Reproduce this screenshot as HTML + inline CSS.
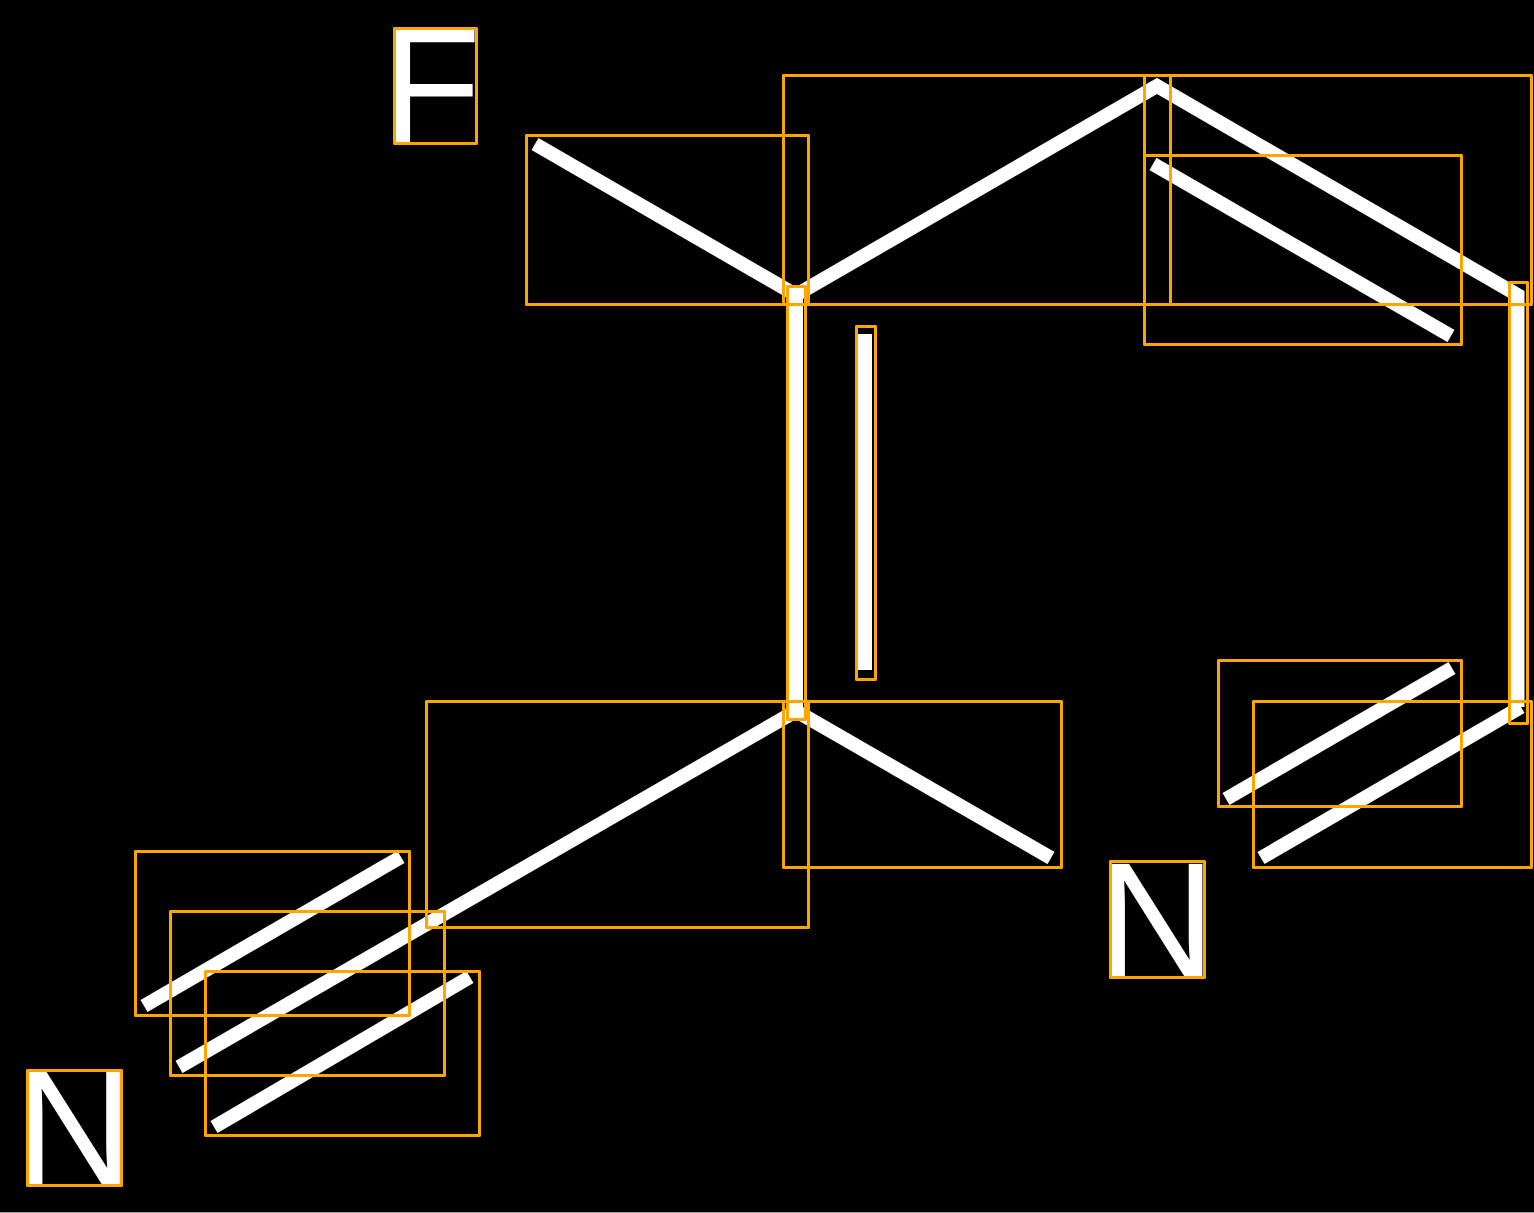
<!DOCTYPE html>
<html>
<head>
<meta charset="utf-8">
<style>
html,body{margin:0;padding:0;background:#000;width:1534px;height:1213px;overflow:hidden}
svg{display:block}
text{font-family:"Liberation Sans",sans-serif;font-size:163px;fill:#fff}
</style>
</head>
<body>
<svg width="1534" height="1213" viewBox="0 0 1534 1213" xmlns="http://www.w3.org/2000/svg">
<rect width="1534" height="1213" fill="#000"/>
<g stroke="#fff" stroke-width="14" fill="none" stroke-linecap="butt">
<line x1="535" y1="144" x2="796" y2="295"/>
<polyline points="796,295 1157,86 1521,297" stroke-linejoin="miter"/>
<line x1="1153" y1="164" x2="1451" y2="336"/>
<line x1="796" y1="288" x2="796" y2="718"/>
<line x1="865" y1="334" x2="865" y2="670"/>
<line x1="1517.5" y1="291" x2="1517.5" y2="707"/>
<line x1="796" y1="711" x2="1051" y2="858"/>
<line x1="796" y1="711" x2="179" y2="1067"/>
<line x1="401" y1="857" x2="144" y2="1006"/>
<line x1="470" y1="977" x2="214" y2="1127"/>
<line x1="1521" y1="707" x2="1261" y2="858"/>
<line x1="1452" y1="668" x2="1226" y2="799"/>
</g>
<text x="381.5" y="142">F</text>
<text x="1098" y="976">N</text>
<text x="15.5" y="1184">N</text>
<g fill="none" stroke="#ffa500" stroke-width="3" stroke-linejoin="round">
<rect x="394.5" y="28.5" width="82" height="115"/>
<rect x="526.5" y="135.5" width="282" height="169"/>
<rect x="783.5" y="75.5" width="387" height="229"/>
<rect x="1144.5" y="75.5" width="387" height="229"/>
<rect x="1144.5" y="155.5" width="317" height="189"/>
<rect x="1509.5" y="282.5" width="18" height="441"/>
<rect x="787.5" y="286.5" width="18" height="433"/>
<rect x="856.5" y="326.5" width="19" height="353"/>
<rect x="426.5" y="701.5" width="382" height="226"/>
<rect x="783.5" y="701.5" width="278" height="166"/>
<rect x="1218.5" y="660.5" width="243" height="146"/>
<rect x="1253.5" y="701.5" width="278" height="166"/>
<rect x="135.5" y="851.5" width="274" height="164"/>
<rect x="170.5" y="911.5" width="274" height="164"/>
<rect x="205.5" y="971.5" width="274" height="164"/>
<rect x="1110.5" y="861.5" width="94" height="116"/>
<rect x="27.5" y="1070.5" width="94" height="115"/>
</g>
<rect x="0" y="1212" width="1534" height="1" fill="#999"/>
</svg>
</body>
</html>
